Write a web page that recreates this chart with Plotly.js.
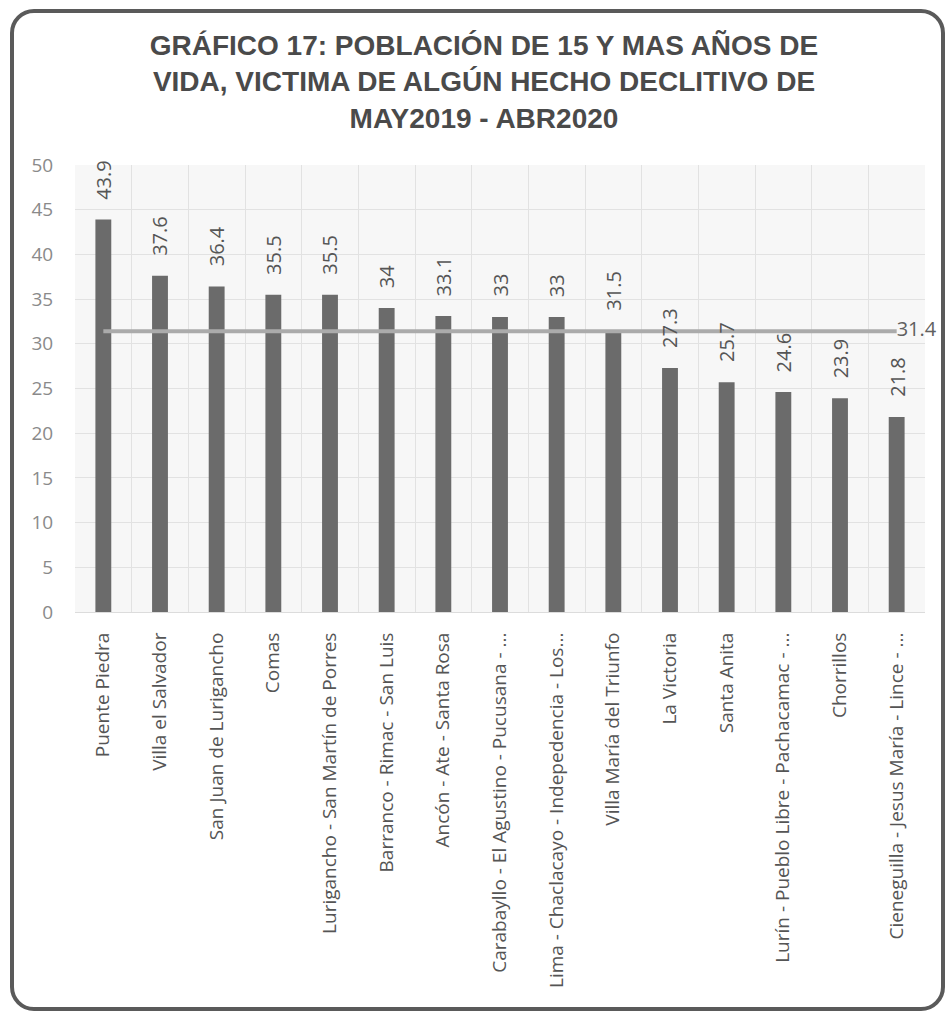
<!DOCTYPE html>
<html>
<head>
<meta charset="utf-8">
<script src="https://cdn.plot.ly/plotly-3.0.1.min.js"></script>
<style>
  html, body { margin: 0; padding: 0; background: #ffffff; }
  #wrap { position: relative; width: 949px; height: 1013px; }
  #chart { position: absolute; left: 0; top: 0; width: 949px; height: 1013px; }
  #frame { position: absolute; left: 10px; top: 9px; width: 935px; height: 1002px;
           box-sizing: border-box; border: 4px solid #5a5a5a; border-radius: 24px;
           pointer-events: none; }
</style>
</head>
<body>
<div id="wrap">
  <div id="chart"></div>
  <div id="frame"></div>
</div>
<script>
const categories = [
  "Puente Piedra",
  "Villa el Salvador",
  "San Juan de Lurigancho",
  "Comas",
  "Lurigancho - San Martín de Porres",
  "Barranco - Rimac - San Luis",
  "Ancón - Ate - Santa Rosa",
  "Carabayllo - El Agustino - Pucusana - ...",
  "Lima - Chaclacayo - Indepedencia - Los...",
  "Villa María del Triunfo",
  "La Victoria",
  "Santa Anita",
  "Lurín - Pueblo Libre - Pachacamac - ...",
  "Chorrillos",
  "Cieneguilla - Jesus María - Lince - ..."
];
const values = [43.9, 37.6, 36.4, 35.5, 35.5, 34, 33.1, 33, 33, 31.5, 27.3, 25.7, 24.6, 23.9, 21.8];
const averageValue = 31.4;
const yTicks = [0, 5, 10, 15, 20, 25, 30, 35, 40, 45, 50];

const labelFont = { family: "Open Sans, sans-serif", size: 20, color: "#555555" };

const bars = {
  type: "bar",
  x: categories,
  y: values,
  marker: { color: "#6b6b6b" },
  hoverinfo: "x+y",
  showlegend: false
};

const avgLine = {
  type: "scatter",
  mode: "lines+text",
  x: categories,
  y: categories.map(() => averageValue),
  text: categories.map((c, i) => i === categories.length - 1 ? String(averageValue) : ""),
  textposition: "middle right",
  textfont: { family: "Open Sans, sans-serif", size: 20, color: "#606060" },
  line: { color: "#ababab", width: 4 },
  cliponaxis: false,
  hoverinfo: "y",
  showlegend: false
};

const valueLabels = categories.map((c, i) => ({
  x: c,
  y: values[i],
  xref: "x",
  yref: "y",
  text: String(values[i]),
  showarrow: false,
  textangle: -90,
  xanchor: "center",
  yanchor: "bottom",
  yshift: 18,
  font: labelFont
}));

const layout = {
  width: 949,
  height: 1013,
  margin: { l: 75, r: 24, t: 165, b: 401 },
  paper_bgcolor: "#ffffff",
  plot_bgcolor: "#f7f7f7",
  title: {
    text: "GRÁFICO 17: POBLACIÓN DE 15 Y MAS AÑOS DE<br>VIDA, VICTIMA DE ALGÚN HECHO DECLITIVO DE<br>MAY2019 - ABR2020",
    font: { family: "Liberation Sans, Arial, sans-serif", size: 28, color: "#4a4a4a", weight: 700 },
    x: 0.51,
    xanchor: "center",
    xref: "container",
    y: 0.946,
    yanchor: "middle",
    yref: "container"
  },
  bargap: 0.72,
  xaxis: {
    type: "category",
    range: [-0.5, categories.length - 0.5],
    autorange: false,
    tickangle: -90,
    tickfont: { family: "Open Sans, sans-serif", size: 19, color: "#555555" },
    showgrid: true,
    gridcolor: "#e2e2e2",
    tickson: "boundaries",
    ticks: "",
    ticklabelstandoff: 12,
    showline: true,
    linecolor: "#dcdcdc",
    linewidth: 1,
    zeroline: false,
    fixedrange: true
  },
  yaxis: {
    range: [0, 50],
    autorange: false,
    tickvals: yTicks,
    ticktext: yTicks.map(String),
    tickfont: { family: "Open Sans, sans-serif", size: 19, color: "#8a8a8a" },
    showgrid: true,
    gridcolor: "#e2e2e2",
    zeroline: false,
    ticks: "outside",
    ticklen: 17,
    tickcolor: "rgba(0,0,0,0)",
    fixedrange: true
  },
  annotations: valueLabels
};

Plotly.newPlot("chart", [bars, avgLine], layout, { displayModeBar: false, staticPlot: true });
</script>
</body>
</html>
